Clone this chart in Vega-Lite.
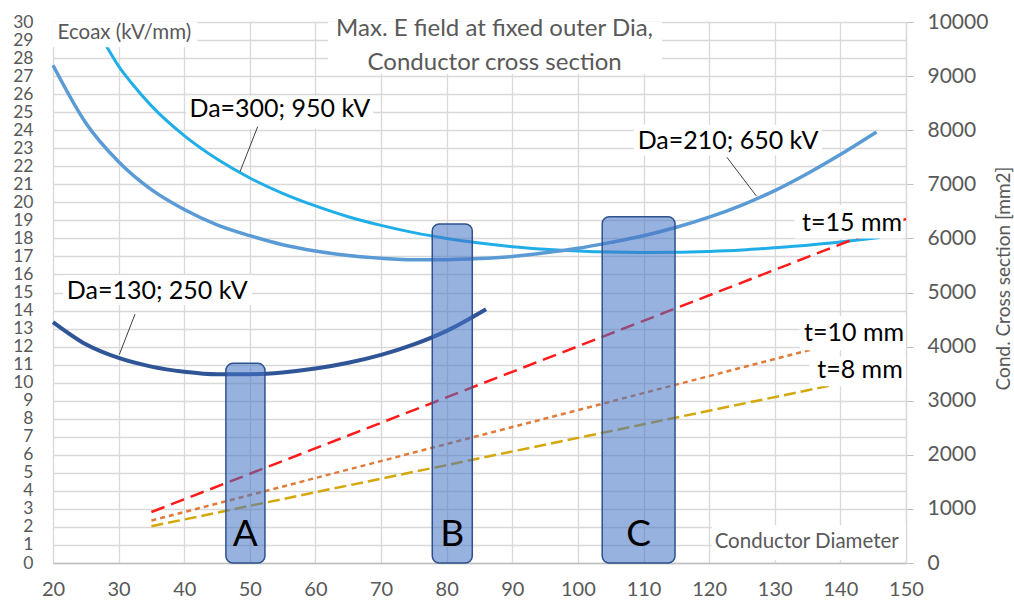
{
  "$schema": "https://vega.github.io/schema/vega-lite/v6.json",
  "width": 853,
  "height": 541,
  "autosize": "none",
  "padding": {"left": 53, "top": 22, "right": 108, "bottom": 41},
  "background": "white",
  "config": {
    "font": "Lato",
    "view": {"stroke": null},
    "axisBottom": {"grid": true, "gridColor": "#D9D9D9", "gridWidth": 1.3, "ticks": false, "domainColor": "#BFBFBF", "domainWidth": 1.3, "labelFontSize": 20, "labelColor": "#595959", "labelPadding": 16, "labelFlush": false, "labelOverlap": false, "tickCount": 13},
    "axisLeft": {"grid": true, "gridColor": "#D9D9D9", "gridWidth": 1.3, "ticks": false, "domain": false, "labelFontSize": 17.5, "labelColor": "#595959", "labelPadding": 20, "labelOverlap": false},
    "axisRight": {"grid": false, "ticks": true, "tickSize": 7, "tickColor": "#BFBFBF", "domainColor": "#D9D9D9", "domainWidth": 1.3, "labelFontSize": 21, "labelColor": "#595959", "labelPadding": 14, "labelOverlap": false, "titleFontSize": 19, "titleColor": "#595959", "titleFontWeight": "normal", "titleAngle": 270, "titlePadding": 26, "titleY": 256}
  },
  "datasets": {
    "curves": [
      {"s": "Da=300", "d": 28, "E": 28.75}, {"s": "Da=300", "d": 30, "E": 27.55}, {"s": "Da=300", "d": 32, "E": 26.6}, {"s": "Da=300", "d": 35, "E": 25.35}, {"s": "Da=300", "d": 40, "E": 23.7}, {"s": "Da=300", "d": 45, "E": 22.4}, {"s": "Da=300", "d": 50, "E": 21.35}, {"s": "Da=300", "d": 55, "E": 20.5}, {"s": "Da=300", "d": 60, "E": 19.8}, {"s": "Da=300", "d": 65, "E": 19.2}, {"s": "Da=300", "d": 70, "E": 18.72}, {"s": "Da=300", "d": 75, "E": 18.32}, {"s": "Da=300", "d": 80, "E": 18.0}, {"s": "Da=300", "d": 85, "E": 17.74}, {"s": "Da=300", "d": 90, "E": 17.54}, {"s": "Da=300", "d": 95, "E": 17.4}, {"s": "Da=300", "d": 100, "E": 17.3}, {"s": "Da=300", "d": 105, "E": 17.24}, {"s": "Da=300", "d": 110, "E": 17.22}, {"s": "Da=300", "d": 115, "E": 17.23}, {"s": "Da=300", "d": 120, "E": 17.28}, {"s": "Da=300", "d": 125, "E": 17.36}, {"s": "Da=300", "d": 130, "E": 17.48}, {"s": "Da=300", "d": 135, "E": 17.62}, {"s": "Da=300", "d": 140, "E": 17.8}, {"s": "Da=300", "d": 146, "E": 18.05},
      {"s": "Da=210", "d": 20, "E": 27.6}, {"s": "Da=210", "d": 25, "E": 24.4}, {"s": "Da=210", "d": 30, "E": 22.25}, {"s": "Da=210", "d": 35, "E": 20.7}, {"s": "Da=210", "d": 40, "E": 19.6}, {"s": "Da=210", "d": 45, "E": 18.75}, {"s": "Da=210", "d": 50, "E": 18.15}, {"s": "Da=210", "d": 55, "E": 17.65}, {"s": "Da=210", "d": 60, "E": 17.3}, {"s": "Da=210", "d": 65, "E": 17.05}, {"s": "Da=210", "d": 70, "E": 16.9}, {"s": "Da=210", "d": 75, "E": 16.82}, {"s": "Da=210", "d": 80, "E": 16.82}, {"s": "Da=210", "d": 85, "E": 16.88}, {"s": "Da=210", "d": 90, "E": 17.0}, {"s": "Da=210", "d": 95, "E": 17.2}, {"s": "Da=210", "d": 100, "E": 17.45}, {"s": "Da=210", "d": 105, "E": 17.78}, {"s": "Da=210", "d": 110, "E": 18.15}, {"s": "Da=210", "d": 115, "E": 18.62}, {"s": "Da=210", "d": 120, "E": 19.18}, {"s": "Da=210", "d": 125, "E": 19.85}, {"s": "Da=210", "d": 130, "E": 20.65}, {"s": "Da=210", "d": 135, "E": 21.6}, {"s": "Da=210", "d": 140, "E": 22.65}, {"s": "Da=210", "d": 145.5, "E": 23.9},
      {"s": "Da=130", "d": 20, "E": 13.36}, {"s": "Da=130", "d": 25, "E": 12.13}, {"s": "Da=130", "d": 30, "E": 11.37}, {"s": "Da=130", "d": 35, "E": 10.89}, {"s": "Da=130", "d": 40, "E": 10.61}, {"s": "Da=130", "d": 45, "E": 10.47}, {"s": "Da=130", "d": 50, "E": 10.47}, {"s": "Da=130", "d": 55, "E": 10.57}, {"s": "Da=130", "d": 60, "E": 10.78}, {"s": "Da=130", "d": 65, "E": 11.1}, {"s": "Da=130", "d": 70, "E": 11.54}, {"s": "Da=130", "d": 75, "E": 12.12}, {"s": "Da=130", "d": 80, "E": 12.87}, {"s": "Da=130", "d": 86, "E": 14.07}
    ],
    "sections": [
      {"t": "t=15", "d": 35, "A": 942}, {"t": "t=15", "d": 150, "A": 6362},
      {"t": "t=10", "d": 35, "A": 785}, {"t": "t=10", "d": 150, "A": 4398},
      {"t": "t=8", "d": 35, "A": 679}, {"t": "t=8", "d": 150, "A": 3569}
    ],
    "zones": [
      {"k": "A", "x1": 46.35, "x2": 52.3, "top": 11.07, "mid": 49.3},
      {"k": "B", "x1": 77.8, "x2": 83.9, "top": 18.8, "mid": 80.85},
      {"k": "C", "x1": 103.7, "x2": 114.8, "top": 19.2, "mid": 109.25}
    ],
    "whiteboxes": [
      {"x1": 20, "x2": 42, "y1": 28.6, "y2": 30},
      {"x1": 61.9, "x2": 112.8, "y1": 27.1, "y2": 30},
      {"x1": 40.3, "x2": 68.8, "y1": 24.1, "y2": 25.9},
      {"x1": 108.5, "x2": 137.2, "y1": 22.6, "y2": 24.3},
      {"x1": 21.5, "x2": 50.3, "y1": 14.3, "y2": 15.95},
      {"x1": 133, "x2": 149.6, "y1": 18.0, "y2": 19.85},
      {"x1": 133.8, "x2": 150, "y1": 11.8, "y2": 13.7},
      {"x1": 135.3, "x2": 150, "y1": 9.8, "y2": 11.45},
      {"x1": 120.4, "x2": 150, "y1": 0.15, "y2": 2.1}
    ],
    "leaders": [
      {"x1": 51.2, "y1": 24.2, "x2": 48.5, "y2": 21.7},
      {"x1": 122.7, "y1": 22.5, "x2": 127.2, "y2": 20.35},
      {"x1": 32.5, "y1": 13.8, "x2": 30.1, "y2": 11.55}
    ],
    "curvelabels": [
      {"text": "Da=300; 950 kV", "x": 40.8, "y": 25.2},
      {"text": "Da=210; 650 kV", "x": 109.1, "y": 23.4},
      {"text": "Da=130; 250 kV", "x": 22.1, "y": 15.1}
    ],
    "tlabels": [
      {"text": "t=15 mm", "x": 149.4, "y": 18.83},
      {"text": "t=10 mm", "x": 149.7, "y": 12.74},
      {"text": "t=8 mm", "x": 149.5, "y": 10.68}
    ],
    "titlelines": [
      {"text": "Max. E field at fixed outer Dia,", "x": 87.3, "y": 29.6},
      {"text": "Conductor cross section", "x": 87.3, "y": 27.75}
    ]
  },
  "layer": [
    {
      "data": {"name": "curves"},
      "mark": {"type": "line", "interpolate": "monotone"},
      "encoding": {
        "x": {"field": "d", "type": "quantitative", "scale": {"domain": [20, 150], "nice": false, "zero": false}, "axis": {"title": null}},
        "y": {"field": "E", "type": "quantitative", "scale": {"domain": [0, 30], "nice": false}, "axis": {"orient": "left", "title": null, "values": [0,1,2,3,4,5,6,7,8,9,10,11,12,13,14,15,16,17,18,19,20,21,22,23,24,25,26,27,28,29,30]}},
        "color": {"field": "s", "type": "nominal", "scale": {"domain": ["Da=300", "Da=210", "Da=130"], "range": ["#1FAEE8", "#5B9BD5", "#2F5597"]}, "legend": null},
        "strokeWidth": {"field": "s", "type": "nominal", "scale": {"domain": ["Da=300", "Da=210", "Da=130"], "range": [3, 4, 3.2]}, "legend": null}
      }
    },
    {
      "data": {"name": "sections"},
      "mark": {"type": "line", "strokeWidth": 2.5},
      "encoding": {
        "x": {"field": "d", "type": "quantitative", "axis": {"title": null}},
        "y": {"field": "A", "type": "quantitative", "scale": {"domain": [0, 10000], "nice": false}, "axis": {"orient": "right", "title": "Cond. Cross section [mm2]", "format": "d", "values": [0,1000,2000,3000,4000,5000,6000,7000,8000,9000,10000]}},
        "color": {"field": "t", "type": "nominal", "scale": {"domain": ["t=15", "t=10", "t=8"], "range": ["#FF1A1A", "#E07B39", "#D4A80C"]}, "legend": null},
        "strokeDash": {"field": "t", "type": "nominal", "scale": {"domain": ["t=15", "t=10", "t=8"], "range": [[14, 7], [5, 4], [12, 5]]}, "legend": null}
      }
    },
    {
      "layer": [
        {
          "data": {"name": "zones"},
          "mark": {"type": "rect", "fill": "#4472C4", "fillOpacity": 0.55, "stroke": "#2F528F", "strokeWidth": 1.5, "cornerRadius": 7},
          "encoding": {
            "x": {"field": "x1", "type": "quantitative", "axis": {"title": null}},
            "x2": {"field": "x2"},
            "y": {"field": "top", "type": "quantitative", "scale": {"domain": [0, 30], "nice": false}, "axis": null},
            "y2": {"datum": 0}
          }
        },
        {
          "data": {"name": "zones"},
          "mark": {"type": "text", "fontSize": 37, "color": "black", "align": "center", "baseline": "alphabetic"},
          "encoding": {
            "x": {"field": "mid", "type": "quantitative", "axis": {"title": null}},
            "y": {"datum": 0.95, "type": "quantitative", "axis": null},
            "text": {"field": "k"}
          }
        },
        {
          "data": {"name": "whiteboxes"},
          "mark": {"type": "rect", "fill": "white"},
          "encoding": {
            "x": {"field": "x1", "type": "quantitative", "axis": {"title": null}},
            "x2": {"field": "x2"},
            "y": {"field": "y1", "type": "quantitative", "axis": null},
            "y2": {"field": "y2"}
          }
        },
        {
          "data": {"name": "leaders"},
          "mark": {"type": "rule", "color": "#404040", "strokeWidth": 1},
          "encoding": {
            "x": {"field": "x1", "type": "quantitative", "axis": {"title": null}},
            "x2": {"field": "x2"},
            "y": {"field": "y1", "type": "quantitative", "axis": null},
            "y2": {"field": "y2"}
          }
        },
        {
          "data": {"name": "curvelabels"},
          "mark": {"type": "text", "fontSize": 25, "color": "black", "align": "left", "baseline": "middle"},
          "encoding": {
            "x": {"field": "x", "type": "quantitative", "axis": {"title": null}},
            "y": {"field": "y", "type": "quantitative", "axis": null},
            "text": {"field": "text"}
          }
        },
        {
          "data": {"name": "tlabels"},
          "mark": {"type": "text", "fontSize": 25, "color": "black", "align": "right", "baseline": "middle"},
          "encoding": {
            "x": {"field": "x", "type": "quantitative", "axis": {"title": null}},
            "y": {"field": "y", "type": "quantitative", "axis": null},
            "text": {"field": "text"}
          }
        },
        {
          "data": {"name": "titlelines"},
          "mark": {"type": "text", "fontSize": 24, "color": "#595959", "align": "center", "baseline": "middle"},
          "encoding": {
            "x": {"field": "x", "type": "quantitative", "axis": {"title": null}},
            "y": {"field": "y", "type": "quantitative", "axis": null},
            "text": {"field": "text"}
          }
        },
        {
          "data": {"values": [{"text": "Ecoax (kV/mm)", "x": 20.7, "y": 29.4}]},
          "mark": {"type": "text", "fontSize": 20.5, "color": "#595959", "align": "left", "baseline": "middle"},
          "encoding": {
            "x": {"field": "x", "type": "quantitative", "axis": {"title": null}},
            "y": {"field": "y", "type": "quantitative", "axis": null},
            "text": {"field": "text"}
          }
        },
        {
          "data": {"values": [{"text": "Conductor Diameter", "x": 148.9, "y": 1.15}]},
          "mark": {"type": "text", "fontSize": 20.5, "color": "#595959", "align": "right", "baseline": "middle"},
          "encoding": {
            "x": {"field": "x", "type": "quantitative", "axis": {"title": null}},
            "y": {"field": "y", "type": "quantitative", "axis": null},
            "text": {"field": "text"}
          }
        }
      ]
    }
  ],
  "resolve": {"scale": {"y": "independent", "color": "independent", "strokeDash": "independent", "strokeWidth": "independent"}}
}
